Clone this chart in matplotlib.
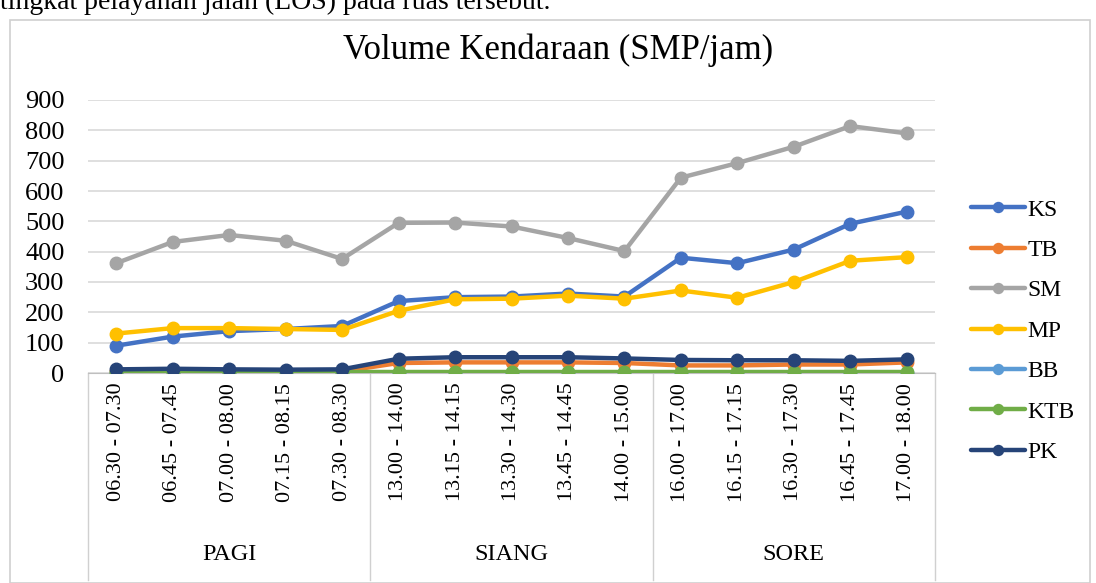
import matplotlib
matplotlib.use("Agg")
import matplotlib.pyplot as plt
from matplotlib.patches import Rectangle
from matplotlib.lines import Line2D
import matplotlib.transforms as mtransforms

plt.rcParams['font.family'] = ['Liberation Serif', 'DejaVu Serif']

time_labels = ["06.30 - 07.30", "06.45 - 07.45", "07.00 - 08.00", "07.15 - 08.15", "07.30 - 08.30",
               "13.00 - 14.00", "13.15 - 14.15", "13.30 - 14.30", "13.45 - 14.45", "14.00 - 15.00",
               "16.00 - 17.00", "16.15 - 17.15", "16.30 - 17.30", "16.45 - 17.45", "17.00 - 18.00"]
groups = ["PAGI", "SIANG", "SORE"]
group_size = 5

KS = [90, 120, 138, 145, 155, 237, 250, 252, 262, 252, 380, 362, 407, 492, 532]
TB = [5, 5, 5, 5, 5, 33, 35, 35, 35, 33, 25, 25, 28, 28, 35]
SM = [362, 432, 455, 436, 376, 495, 496, 483, 445, 402, 644, 692, 746, 814, 790]
MP = [130, 148, 148, 145, 142, 205, 243, 245, 255, 245, 272, 248, 300, 370, 382]
BB = [1, 1, 1, 1, 1, 1, 1, 1, 1, 1, 1, 1, 1, 1, 1]
KTB = [3, 3, 3, 3, 3, 3, 3, 3, 3, 3, 3, 3, 3, 3, 3]
PK = [12, 14, 12, 11, 12, 47, 52, 52, 52, 48, 43, 42, 42, 40, 45]

series = [("KS", KS, "#4472C4"), ("TB", TB, "#ED7D31"), ("SM", SM, "#A5A5A5"),
          ("MP", MP, "#FFC000"), ("BB", BB, "#5B9BD5"), ("KTB", KTB, "#70AD47"),
          ("PK", PK, "#264478")]

fig = plt.figure(figsize=(10.96, 5.83), dpi=100)
W, H = 1096, 583

# chart outer border
fig.patches.append(Rectangle((10 / W, 0), 1080 / W, (H - 20) / H, transform=fig.transFigure,
                             fill=False, edgecolor="#D0D0D0", linewidth=1.2))
# clipped text of the page above (cut off at the top edge, as in the reference)
fig.text(0.0, (H - 9) / H, "tingkat pelayanan jalan (LOS) pada ruas tersebut.",
         fontsize=20, ha="left", va="baseline", color="black")

ax = fig.add_axes([88 / W, (H - 373) / H, (935 - 88) / W, (373 - 100) / H])
x = list(range(len(time_labels)))
for name, vals, col in series:
    ax.plot(x, vals, color=col, linewidth=3.2, marker="o", markersize=9,
            label=name, solid_capstyle="round", zorder=3)

ax.set_xlim(-0.5, len(time_labels) - 0.5)
ax.set_ylim(0, 900)
ax.set_yticks(range(0, 901, 100))
ax.yaxis.grid(True, color="#D9D9D9", linewidth=1.2)
ax.set_axisbelow(True)
for s in ["top", "right", "left"]:
    ax.spines[s].set_visible(False)
ax.spines["bottom"].set_color("#BFBFBF")
ax.tick_params(axis="y", length=0, labelsize=19, pad=17)
ax.set_xticks(x)
ax.set_xticklabels(time_labels, rotation=90, fontsize=16)
ax.tick_params(axis="x", length=0, pad=7)

# group separators and labels
trans = mtransforms.blended_transform_factory(ax.transData, ax.transAxes)
axh = (373 - 100)
bottom_frac = -(580 - 373) / axh
for g in range(len(groups) + 1):
    xb = g * group_size - 0.5
    ax.add_line(Line2D([xb, xb], [0, bottom_frac], transform=trans, color="#D0D0D0",
                       linewidth=1.0, clip_on=False))
for g, name in enumerate(groups):
    xc = g * group_size + (group_size - 1) / 2
    ax.text(xc, -(555 - 373) / axh, name, transform=trans, ha="center", va="center", fontsize=17.5)

fig.text(558 / W, (H - 50) / H, "Volume Kendaraan (SMP/jam)", ha="center", va="center", fontsize=25)

ax.legend(loc="upper left", bbox_to_anchor=(971 / W, (H - 199) / H), bbox_transform=fig.transFigure,
          frameon=False, fontsize=17, handlelength=2.3, handletextpad=0.1, labelspacing=0.8,
          borderaxespad=0, borderpad=0, markerscale=0.8)

fig.savefig("out.png", dpi=100)
